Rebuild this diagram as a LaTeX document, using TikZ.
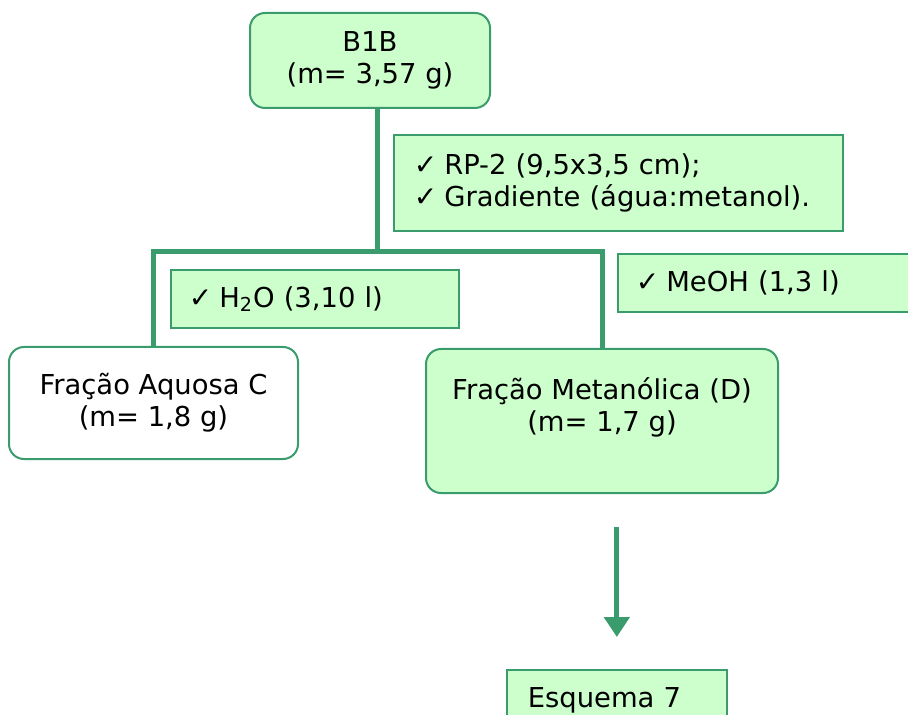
\documentclass[tikz,border=0pt]{standalone}
\usepackage{fontspec}
\setmainfont{DejaVu Sans}
\usepackage{xcolor}
\usetikzlibrary{positioning,arrows.meta}
\definecolor{linegreen}{HTML}{3A9B6C}
\definecolor{boxgreen}{HTML}{CCFFCC}
\tikzset{fbox/.style={draw=linegreen, line width=1pt, rounded corners=7.5pt, fill=boxgreen, align=center, inner sep=0pt}}
\tikzset{fboxw/.style={fbox, fill=white}}
\tikzset{note/.style={draw=linegreen, line width=0.8pt, fill=boxgreen, align=left, anchor=north west, inner ysep=0pt}}
\tikzset{tree/.style={draw=linegreen, line width=2.5pt}}
\tikzset{arr/.style={tree, -{Triangle[width=12.5pt,length=10pt]}, shorten <=16.5pt, shorten >=16pt}}
\newcommand{\chk}{{\fontsize{14pt}{14pt}\selectfont ✓}\hspace{3.5pt}}

\begin{document}
\begin{tikzpicture}[x=0.5pt, y=-0.5pt, font=\fontsize{13.7pt}{16pt}\selectfont]
	\useasboundingbox (0,0) rectangle (908,715);
	\clip (0,0) rectangle (908,715);
	% fractions
	\node[fbox, minimum width=120pt, minimum height=47.5pt] (b1b) at (370,60.5)
		{B1B\\(m= 3,57 g)};
	\node[fboxw, minimum width=144.5pt, minimum height=56pt] (fc) at (153.5,403)
		{Fração Aquosa C\\(m= 1,8 g)};
	\node[fbox, minimum width=176pt, minimum height=72pt] (fd) at (602,421)
		{Fração Metanólica (D)\\(m= 1,7 g)\\\mbox{}};
	% conditions
	\node[note, inner xsep=10pt, text width=204.5pt, minimum height=48pt] (rp) at (393,134)
		{\chk RP-2 (9,5x3,5 cm);\\\chk Gradiente (água:metanol).};
	\node[note, inner xsep=9pt, text width=126pt, minimum height=29pt] (h2o) at (170,269)
		{\chk H\textsubscript{2}O (3,10 l)};
	\node[note, inner xsep=9pt, text width=152pt, minimum height=29pt] (meoh) at (617,253)
		{\chk MeOH (1,3 l)};
	\node[note, inner xsep=10.5pt, text width=89pt, minimum height=31pt] (esq) at (506,669)
		{Esquema 7};
	% tree
	\coordinate (split) at (377,252);
	\draw[tree] (split |- b1b.south) -- (split);
	\draw[tree] (fc.north |- fd.north) |- (split) -| (fd.north);
	\draw[arr] (fd.south -| esq.north) -- (esq.north);
\end{tikzpicture}
\end{document}
